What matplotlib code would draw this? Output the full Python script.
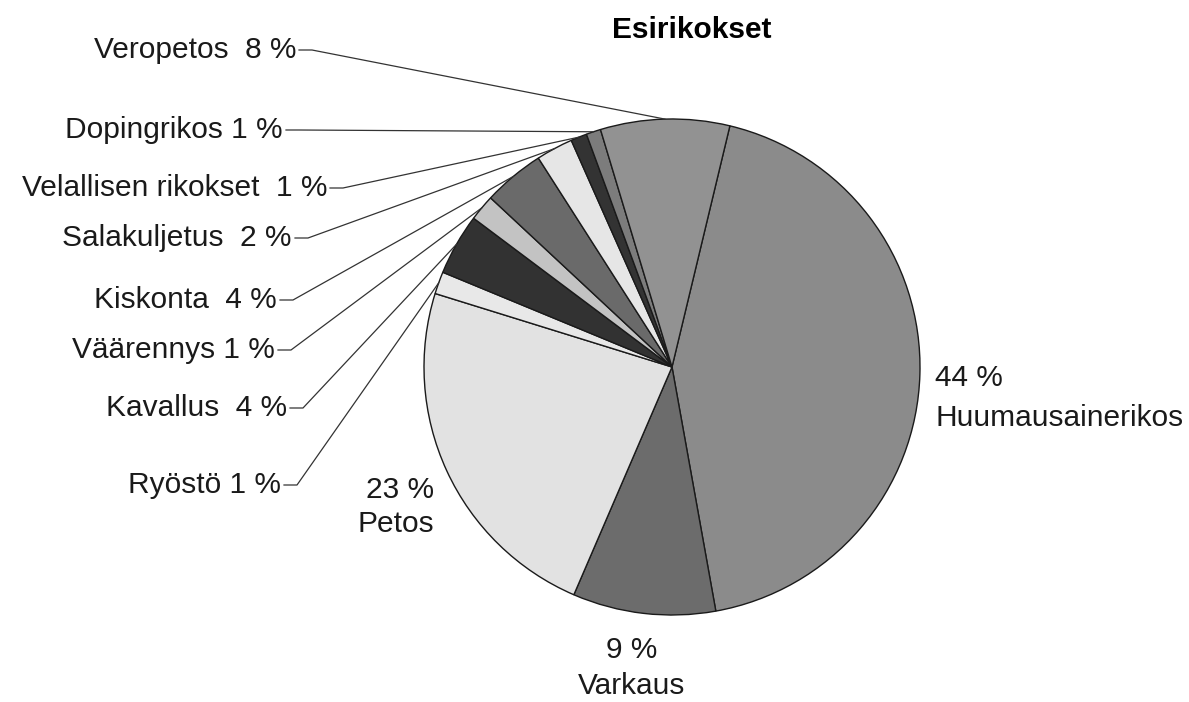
import numpy as np
import matplotlib
matplotlib.use("Agg")
import matplotlib.pyplot as plt

plt.rcParams['font.family'] = ['Liberation Sans', 'DejaVu Sans']

# Data (clockwise from the top)
categories = ["Huumausainerikos", "Varkaus", "Petos", "Ryöstö", "Kavallus",
              "Väärennys", "Kiskonta", "Salakuljetus", "Velallisen rikokset",
              "Dopingrikos", "Veropetos"]
values = [43.4, 9.3, 23.3, 1.45, 4.0, 1.7, 4.0, 2.4, 1.05, 0.95, 8.4]
shown_pct = [44, 9, 23, 1, 4, 1, 4, 2, 1, 1, 8]
colors = ["#8b8b8b", "#6c6c6c", "#e2e2e2", "#e8e8e8", "#323232", "#c3c3c3",
          "#6a6a6a", "#e6e6e6", "#333333", "#7c7c7c", "#929292"]
title = "Esirikokset"

W, H = 1189, 702
fig = plt.figure(figsize=(W / 100, H / 100), dpi=100)
ax = fig.add_axes([0, 0, 1, 1])

cx, cy, R = 672, H - 367, 248
wedges, _ = ax.pie(values, colors=colors, startangle=76.5, counterclock=False,
                   center=(cx, cy), radius=R,
                   wedgeprops=dict(edgecolor="#1a1a1a", linewidth=1.0))
ax.set_xlim(0, W)
ax.set_ylim(0, H)
ax.set_aspect('equal')
ax.axis('off')

fs = 21.5
ax.text(692, H - 30, title, ha='center', va='center', fontsize=fs, fontweight='bold')

# Inside-ish labels
ax.text(935, H - 398, f"{shown_pct[0]} %\n{categories[0]}", ha='left', va='center',
        fontsize=fs, linespacing=1.5, multialignment='left', color="#1a1a1a")
ax.text(632, H - 668, f"{shown_pct[1]} %\n{categories[1]}", ha='center', va='center',
        fontsize=fs, linespacing=1.4, multialignment='center', color="#1a1a1a")
ax.text(434, H - 507, f"{shown_pct[2]} %\n{categories[2]}", ha='right', va='center',
        fontsize=fs, linespacing=1.27, multialignment='right', color="#1a1a1a")

# Outside labels with leader lines: (index, text-right x, y, spacer)
outside = [
    (10, 296, 50, "  "),
    (9, 283, 130, " "),
    (8, 327, 188, "  "),
    (7, 292, 238, "  "),
    (6, 277, 300, "  "),
    (5, 275, 350, " "),
    (4, 287, 408, "  "),
    (3, 281, 485, " "),
]
for idx, tx, ty, sp in outside:
    w = wedges[idx]
    mid = np.deg2rad((w.theta1 + w.theta2) / 2)
    ex, ey = cx + R * np.cos(mid), cy + R * np.sin(mid)
    ax.text(tx, H - ty, f"{categories[idx]}{sp}{shown_pct[idx]} %", ha='right',
            va='center', fontsize=fs, color="#1a1a1a")
    ax.plot([tx + 3, tx + 16, ex], [H - ty, H - ty, ey], color="#333333", lw=0.9)

fig.savefig("out.png", dpi=100, facecolor="white")
